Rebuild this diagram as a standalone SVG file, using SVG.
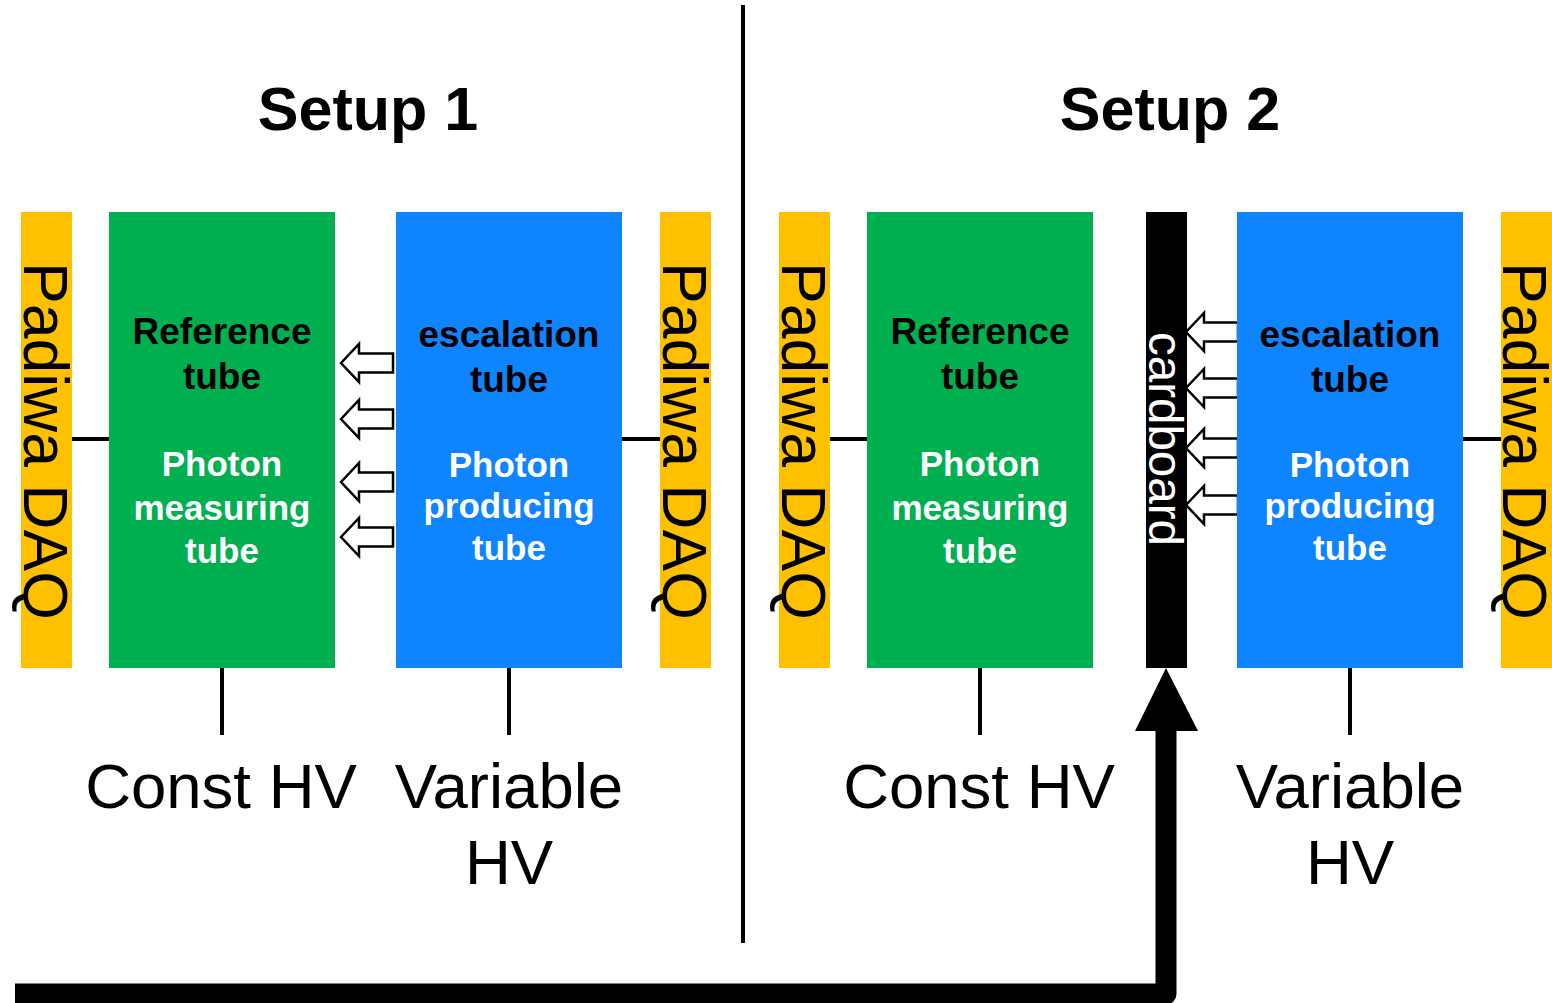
<svg xmlns="http://www.w3.org/2000/svg" width="1552" height="1003" viewBox="0 0 1552 1003">
  <defs>
    <style>
      .daq { fill: #FFC000; }
      .ref { fill: #00B050; }
      .esc { fill: #0F84FF; }
      .wire { stroke: #000; stroke-width: 4; fill: none; }
      .title { font-family: "Liberation Sans", Arial, sans-serif; font-weight: bold; font-size: 61px; fill: #000; text-anchor: middle; }
      .daqtxt { font-family: "Liberation Sans", Arial, sans-serif; font-size: 62.5px; fill: #000; }
      .lbl { font-family: "Liberation Sans", Arial, sans-serif; font-weight: bold; font-size: 37px; text-anchor: middle; fill: #000; }
      .sub { font-family: "Liberation Sans", Arial, sans-serif; font-weight: bold; font-size: 35px; text-anchor: middle; fill: #fff; }
      .hv { font-family: "Liberation Sans", Arial, sans-serif; font-size: 63.5px; fill: #000; text-anchor: middle; }
      .hollow { fill: #fff; stroke: #000; stroke-width: 2.5; stroke-linejoin: miter; }
    </style>
    <!-- hollow left-pointing arrow, tip at origin -->
    <path id="hollowArrow" d="M0 0 L18 -19 L18 -9.5 L52 -9.5 L52 9.5 L18 9.5 L18 19 Z"/>
  </defs>

  <!-- separator between the two setups -->
  <line x1="743" y1="5" x2="743" y2="943" stroke="#000" stroke-width="4"/>

  <text class="title" x="368" y="130">Setup 1</text>
  <text class="title" x="1170" y="130">Setup 2</text>

  <!-- connectors -->
  <g id="connectors">
    <line class="wire" x1="72" y1="439" x2="109" y2="439"/>
    <line class="wire" x1="622" y1="439" x2="660" y2="439"/>
    <line class="wire" x1="830" y1="439" x2="867" y2="439"/>
    <line class="wire" x1="1463" y1="439" x2="1501" y2="439"/>
    <line class="wire" x1="222" y1="668" x2="222" y2="735"/>
    <line class="wire" x1="509" y1="668" x2="509" y2="735"/>
    <line class="wire" x1="980" y1="668" x2="980" y2="735"/>
    <line class="wire" x1="1350" y1="668" x2="1350" y2="735"/>
    <!-- photon direction, setup 1 -->
    <use href="#hollowArrow" class="hollow" x="341" y="363"/>
    <use href="#hollowArrow" class="hollow" x="341" y="419"/>
    <use href="#hollowArrow" class="hollow" x="341" y="482"/>
    <use href="#hollowArrow" class="hollow" x="341" y="537"/>
    <!-- photon direction, setup 2 -->
    <use href="#hollowArrow" class="hollow" x="1186" y="332"/>
    <use href="#hollowArrow" class="hollow" x="1186" y="388"/>
    <use href="#hollowArrow" class="hollow" x="1186" y="448"/>
    <use href="#hollowArrow" class="hollow" x="1186" y="505"/>
    <!-- cardboard inserted between the setups -->
    <path d="M15 994 H1166 V726" fill="none" stroke="#000" stroke-width="21" stroke-linejoin="round"/>
    <polygon points="1135,731 1198,731 1166,668" fill="#000"/>
  </g>

  <!-- setup 1 -->
  <g id="daq1a">
    <rect class="daq" x="21" y="212" width="51" height="456"/>
    <text class="daqtxt" transform="translate(24,262) rotate(90)">Padiwa DAQ</text>
  </g>
  <g id="ref1">
    <rect class="ref" x="109" y="212" width="226" height="456"/>
    <text class="lbl" x="222" y="344">Reference</text>
    <text class="lbl" x="222" y="389">tube</text>
    <text class="sub" x="222" y="476">Photon</text>
    <text class="sub" x="222" y="520">measuring</text>
    <text class="sub" x="222" y="563">tube</text>
  </g>
  <g id="esc1">
    <rect class="esc" x="396" y="212" width="226" height="456"/>
    <text class="lbl" x="509" y="347">escalation</text>
    <text class="lbl" x="509" y="392">tube</text>
    <text class="sub" x="509" y="477">Photon</text>
    <text class="sub" x="509" y="518">producing</text>
    <text class="sub" x="509" y="560">tube</text>
  </g>
  <g id="daq1b">
    <rect class="daq" x="660" y="212" width="51" height="456"/>
    <text class="daqtxt" transform="translate(663,262) rotate(90)">Padiwa DAQ</text>
  </g>
  <g id="hv1">
    <text class="hv" x="221" y="808">Const HV</text>
    <text class="hv" x="509" y="808">Variable</text>
    <text class="hv" x="509" y="884">HV</text>
  </g>

  <!-- setup 2 -->
  <g id="daq2a">
    <rect class="daq" x="779" y="212" width="51" height="456"/>
    <text class="daqtxt" transform="translate(782,262) rotate(90)">Padiwa DAQ</text>
  </g>
  <g id="ref2">
    <rect class="ref" x="867" y="212" width="226" height="456"/>
    <text class="lbl" x="980" y="344">Reference</text>
    <text class="lbl" x="980" y="389">tube</text>
    <text class="sub" x="980" y="476">Photon</text>
    <text class="sub" x="980" y="520">measuring</text>
    <text class="sub" x="980" y="563">tube</text>
  </g>
  <g id="cardboard">
    <rect x="1146" y="212" width="41" height="456" fill="#000"/>
    <text transform="translate(1149,332) rotate(90)" font-family="Liberation Sans, Arial, sans-serif" font-size="47.5" fill="#fff">cardboard</text>
  </g>
  <g id="esc2">
    <rect class="esc" x="1237" y="212" width="226" height="456"/>
    <text class="lbl" x="1350" y="347">escalation</text>
    <text class="lbl" x="1350" y="392">tube</text>
    <text class="sub" x="1350" y="477">Photon</text>
    <text class="sub" x="1350" y="518">producing</text>
    <text class="sub" x="1350" y="560">tube</text>
  </g>
  <g id="daq2b">
    <rect class="daq" x="1501" y="212" width="51" height="456"/>
    <text class="daqtxt" transform="translate(1503,262) rotate(90)">Padiwa DAQ</text>
  </g>
  <g id="hv2">
    <text class="hv" x="979" y="808">Const HV</text>
    <text class="hv" x="1350" y="808">Variable</text>
    <text class="hv" x="1350" y="884">HV</text>
  </g>
</svg>
